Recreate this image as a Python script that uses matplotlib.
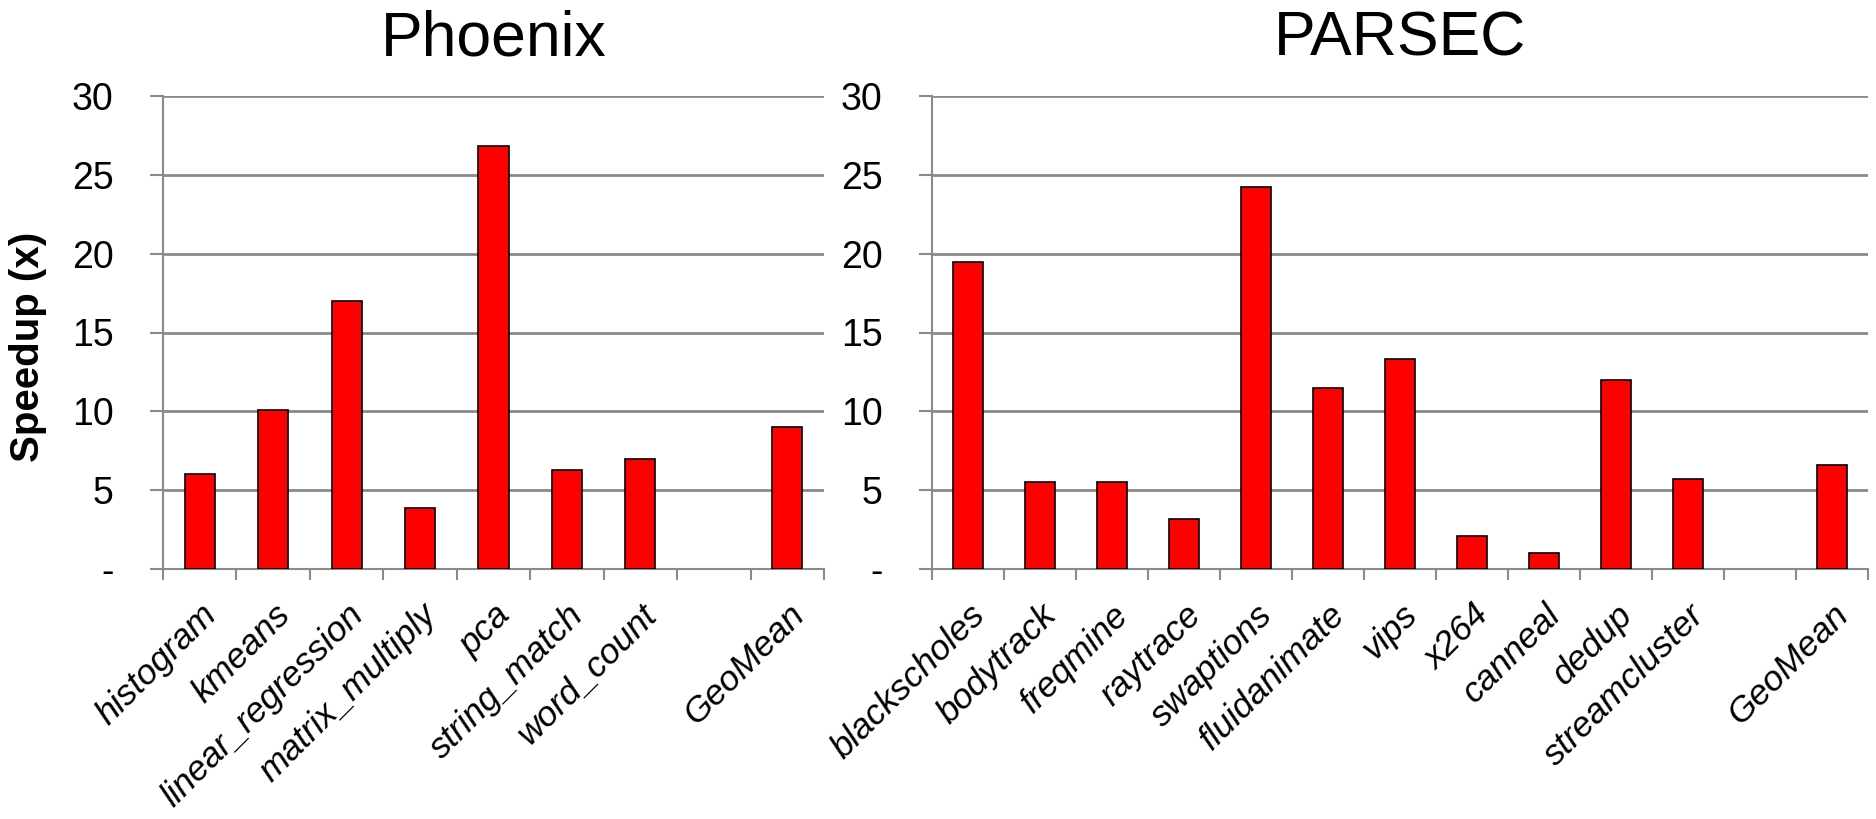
import matplotlib
matplotlib.use("Agg")
import matplotlib.pyplot as plt
import numpy as np

plt.rcParams['font.family'] = ['Liberation Sans', 'DejaVu Sans']

phoenix_labels = ["histogram", "kmeans", "linear_regression", "matrix_multiply",
                  "pca", "string_match", "word_count", "", "GeoMean"]
phoenix_values = [6.0, 10.1, 17.0, 3.9, 26.8, 6.3, 7.0, None, 9.0]

parsec_labels = ["blackscholes", "bodytrack", "freqmine", "raytrace", "swaptions",
                 "fluidanimate", "vips", "x264", "canneal", "dedup",
                 "streamcluster", "", "GeoMean"]
parsec_values = [19.5, 5.5, 5.5, 3.2, 24.2, 11.5, 13.3, 2.1, 1.0, 12.0, 5.7, None, 6.6]

y_ticks = [0, 5, 10, 15, 20, 25, 30]
y_ticklabels = ["-", "5", "10", "15", "20", "25", "30"]

titles = ["Phoenix", "PARSEC"]

W, H = 1876, 819
fig = plt.figure(figsize=(W / 100, H / 100), dpi=100)

ax_boxes = [
    (163 / W, 1 - 569 / H, (824 - 163) / W, (569 - 96) / H),
    (932 / W, 1 - 569 / H, (1868 - 932) / W, (569 - 96) / H),
]

GRID = "#8a8a8a"
YTICK_FS = 27
XTICK_FS = 25.5


def draw_panel(ax, labels, values, title):
    n = len(labels)
    x = np.arange(n)
    for xi, v in zip(x, values):
        if v is None:
            continue
        ax.bar(xi, v, width=0.41, color="#ff0000", edgecolor="black",
               linewidth=1.2, zorder=3)
    ax.set_xlim(-0.5, n - 0.5)
    ax.set_ylim(0, 30)
    ax.set_yticks(y_ticks)
    ax.set_yticklabels(y_ticklabels, fontsize=YTICK_FS)
    ax.yaxis.grid(True, color=GRID, linewidth=2, zorder=0)
    ax.set_axisbelow(True)

    # category boundaries carry the tick marks, labels sit at the centres
    ax.set_xticks(np.arange(-0.5, n, 1.0))
    ax.set_xticklabels([])
    ax.set_xticks(x, minor=True)
    ax.set_xticklabels(labels, minor=True, rotation=45, ha="right",
                       rotation_mode="anchor", fontsize=XTICK_FS, style="italic")
    ax.tick_params(axis="x", which="minor", length=0, pad=21)
    ax.tick_params(axis="x", which="major", length=8, width=1.5, color=GRID,
                   direction="out")
    ax.tick_params(axis="y", length=9.5, width=1.5, color=GRID, pad=26)

    for s in ("top", "right"):
        ax.spines[s].set_visible(False)
    for s in ("left", "bottom"):
        ax.spines[s].set_color(GRID)
        ax.spines[s].set_linewidth(1.5)

    ax.set_title(title, fontsize=45, pad=29)


for box, labels, values, title in zip(ax_boxes,
                                      [phoenix_labels, parsec_labels],
                                      [phoenix_values, parsec_values],
                                      titles):
    ax = fig.add_axes(box)
    draw_panel(ax, labels, values, title)
    if title == "Phoenix":
        ax.set_ylabel("Speedup (x)", fontsize=29, fontweight="bold")
        ax.yaxis.set_label_coords(-0.175, 0.47)

fig.savefig("out.png", dpi=100)
